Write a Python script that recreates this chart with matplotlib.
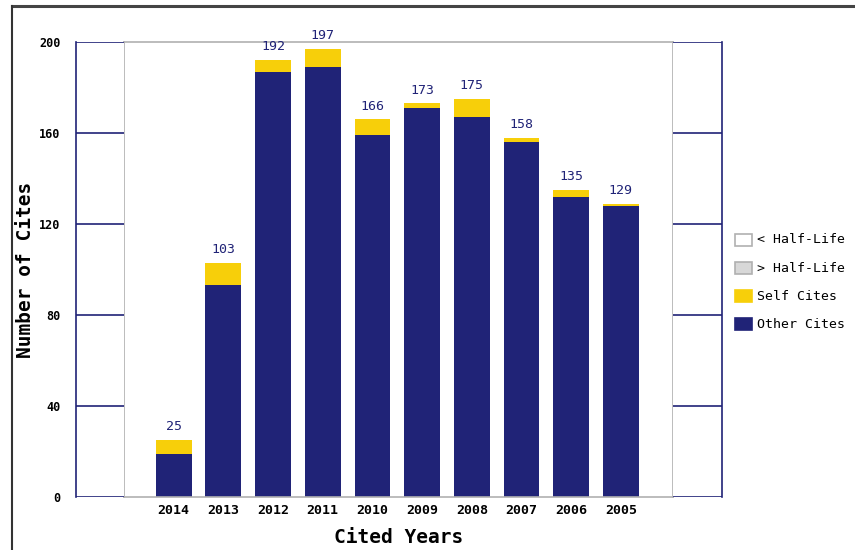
"""
Cited-years bar chart (other cites + self cites), JCR style.
"""
import matplotlib
matplotlib.use("Agg")
import matplotlib.pyplot as plt
from matplotlib.lines import Line2D
from matplotlib.patches import Rectangle

years = ["2014", "2013", "2012", "2011", "2010", "2009", "2008", "2007", "2006", "2005"]
other_cites = [19, 93, 187, 189, 159, 171, 167, 156, 132, 128]
self_cites = [6, 10, 5, 8, 7, 2, 8, 2, 3, 1]
totals = [25, 103, 192, 197, 166, 173, 175, 158, 135, 129]
y_ticks = [0, 40, 80, 120, 160, 200]
legend_labels = ["< Half-Life", "> Half-Life", "Self Cites", "Other Cites"]

NAVY = "#202377"
YELLOW = "#f7cf0a"
GRAY = "#b0b0b0"
MONO = "DejaVu Sans Mono"

W, H = 855, 550
fig = plt.figure(figsize=(W / 100, H / 100), dpi=100)


def fx(px):
    return px / W


def fy(py):
    return 1 - py / H


y_top, y_bot = 42, 497
main = fig.add_axes([fx(124), fy(y_bot), fx(673 - 124), fy(y_top) - fy(y_bot)])
left = fig.add_axes([fx(76), fy(y_bot), fx(124 - 76), fy(y_top) - fy(y_bot)])
right = fig.add_axes([fx(673), fy(y_bot), fx(722 - 673), fy(y_top) - fy(y_bot)])

ymax = 200
x = list(range(len(years)))
main.bar(x, other_cites, width=0.72, color=NAVY, zorder=2)
main.bar(x, self_cites, bottom=other_cites, width=0.72, color=YELLOW, zorder=2)
for xi, t in zip(x, totals):
    main.text(xi, t + 3, str(t), ha="center", va="bottom", color=NAVY,
              fontsize=9.5, family=MONO)

main.set_xlim(-1.0, 10.05)
main.set_ylim(0, ymax)
main.set_yticks([])
main.set_xticks(x)
main.set_xticklabels(years, family=MONO, fontsize=9.5, fontweight="bold")
main.tick_params(axis="x", length=0, pad=5)
for s in main.spines.values():
    s.set_color(GRAY)
    s.set_linewidth(1.2)
main.set_xlabel("Cited Years", family=MONO, fontsize=14, fontweight="bold", labelpad=8)

for ax, outer in ((left, "left"), (right, "right")):
    ax.set_xlim(0, 1)
    ax.set_ylim(0, ymax)
    ax.set_xticks([])
    ax.set_yticks([])
    for t in y_ticks:
        ax.axhline(t, color=NAVY, lw=1.2)
    for name, s in ax.spines.items():
        s.set_visible(name == outer)
        s.set_color(NAVY)
        s.set_linewidth(1.2)

left.set_yticks(y_ticks)
left.set_yticklabels([str(t) for t in y_ticks], family=MONO, fontsize=8.5, fontweight="bold")
left.tick_params(axis="y", length=0, pad=11)
left.set_ylabel("Number of Cites", family=MONO, fontsize=14, fontweight="bold", labelpad=3)

# legend drawn by hand
leg_colors = ["white", "#d8d8d8", YELLOW, NAVY]
leg_edges = [GRAY, GRAY, YELLOW, NAVY]
for i, (lab, c, e) in enumerate(zip(legend_labels, leg_colors, leg_edges)):
    yc = 240 + i * 28
    fig.add_artist(Rectangle((fx(735), fy(yc + 6)), fx(17), fy(yc - 6) - fy(yc + 6),
                             facecolor=c, edgecolor=e, lw=1.2, transform=fig.transFigure))
    fig.text(fx(757), fy(yc), lab, family=MONO, fontsize=9.5, va="center", ha="left")

# outer frame lines
fig.add_artist(Line2D([fx(12), 1], [fy(6), fy(6)], color="#444444", lw=2.2))
fig.add_artist(Line2D([fx(12), fx(12)], [fy(6), 0], color="#333333", lw=1.5))

fig.savefig("out.png", dpi=100)
